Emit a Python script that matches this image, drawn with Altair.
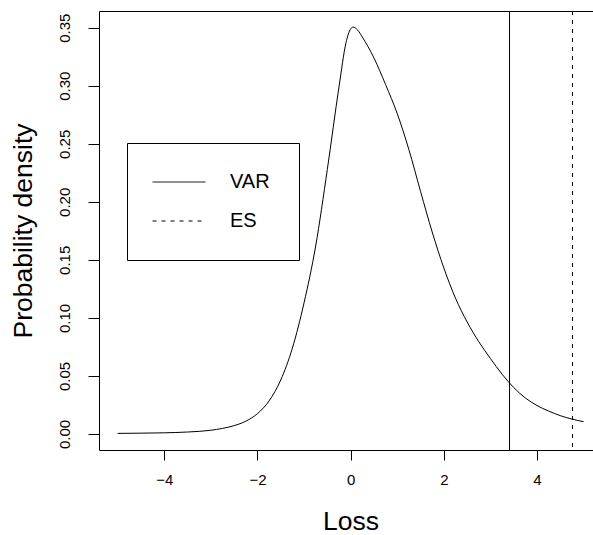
import altair as alt
import pandas as pd

# ---- data ----
loss = [-5.0, -4.5, -4.0, -3.5, -3.0, -2.75, -2.5, -2.25, -2.0, -1.75, -1.5, -1.25,
        -1.0, -0.75, -0.5, -0.25, -0.1, 0.0, 0.05, 0.15, 0.25, 0.5, 0.75, 1.0, 1.25,
        1.5, 1.75, 2.0, 2.25, 2.5, 2.75, 3.0, 3.25, 3.5, 3.75, 4.0, 4.25, 4.5, 4.75, 5.0]
density = [0.0005, 0.0007, 0.0010, 0.0017, 0.0032, 0.0048, 0.0072, 0.0110, 0.0175, 0.0285,
           0.0465, 0.0740, 0.1130, 0.1620, 0.2280, 0.2990, 0.3370, 0.3490, 0.3505, 0.3480,
           0.3420, 0.3240, 0.3010, 0.2760, 0.2450, 0.2090, 0.1740, 0.1430, 0.1170, 0.0965,
           0.0795, 0.0650, 0.0515, 0.0400, 0.0310, 0.0245, 0.0197, 0.0158, 0.0128, 0.0106]

risk_names = ["VAR", "ES"]
risk_values = [3.41, 4.76]

x_ticks = [-4, -2, 0, 2, 4]
y_ticks = [0.0, 0.05, 0.10, 0.15, 0.20, 0.25, 0.30, 0.35]

curve_df = pd.DataFrame({"loss": loss, "density": density})
risk_df = pd.DataFrame({"measure": risk_names, "loss": risk_values})

FONT = "Liberation Sans"
W, H = 494, 439

x_scale = alt.Scale(domain=[-5.4, 5.2009], nice=False, zero=False)
y_scale = alt.Scale(domain=[-0.0138, 0.3644], nice=False, zero=False)

x_axis = alt.Axis(
    values=x_ticks, title="Loss", domain=False, grid=False,
    tickSize=10, tickColor="black", tickWidth=1,
    labelFont=FONT, labelFontSize=15, labelColor="black", labelPadding=12,
    titleFont=FONT, titleFontSize=26.5, titleFontWeight="normal", titleColor="black",
    titleX=251.5, titleY=71, titleBaseline="middle", titleAlign="center",
)
y_axis = alt.Axis(
    values=y_ticks, format=".2f", title="Probability density", domain=False, grid=False,
    tickSize=11, tickColor="black", tickWidth=1,
    labelFont=FONT, labelFontSize=15, labelColor="black", labelPadding=24,
    labelAngle=270, labelAlign="center", labelBaseline="middle",
    titleFont=FONT, titleFontSize=26.5, titleFontWeight="normal", titleColor="black",
    titleAngle=270, titleX=-76, titleY=219.5, titleBaseline="middle", titleAlign="center",
)

curve = alt.Chart(curve_df).mark_line(color="black", strokeWidth=1, interpolate="monotone").encode(
    x=alt.X("loss:Q", scale=x_scale, axis=x_axis),
    y=alt.Y("density:Q", scale=y_scale, axis=y_axis),
)

rules = alt.Chart(risk_df).mark_rule(color="black", strokeWidth=1).encode(
    x=alt.X("loss:Q", scale=x_scale, axis=x_axis),
    strokeDash=alt.StrokeDash(
        "measure:N",
        scale=alt.Scale(domain=risk_names, range=[[1, 0], [4, 5]]),
        legend=alt.Legend(
            title=None, orient="none", legendX=28, legendY=132,
            symbolType="M-10,0H10", symbolSize=28, symbolStrokeWidth=1,
            symbolStrokeColor="black", symbolOffset=13,
            labelFont=FONT, labelFontSize=20, labelColor="black", labelOffset=41,
            padding=29, rowPadding=19,
            strokeColor="black", fillColor="white",
        ),
    ),
)

chart = alt.layer(curve, rules).properties(
    width=W, height=H,
    autosize=alt.AutoSizeParams(type="none"),
    padding={"left": 99, "top": 11, "right": 0, "bottom": 85},
    background="white",
).configure_view(stroke="black", strokeWidth=1).configure_legend(strokeWidth=1)

chart.save("out.html", embed_options={"renderer": "svg", "actions": False})
